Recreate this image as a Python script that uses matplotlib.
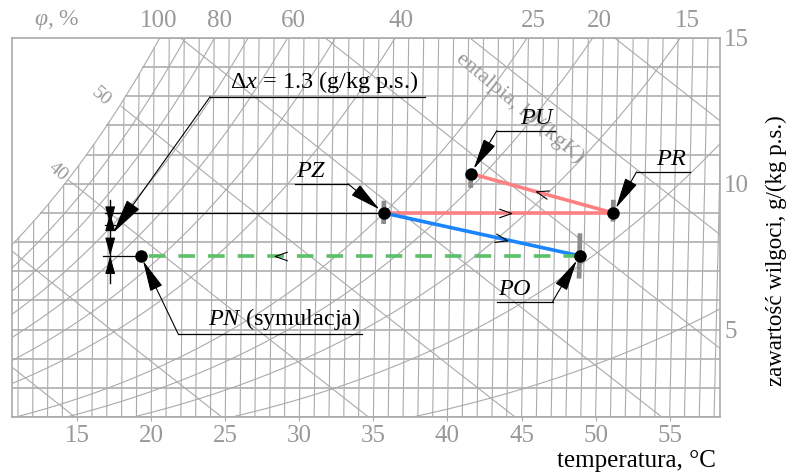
import numpy as np
import matplotlib
matplotlib.use('Agg')
import matplotlib.pyplot as plt
from matplotlib.path import Path
from matplotlib.markers import MarkerStyle
from matplotlib.transforms import Affine2D

plt.rcParams['font.family'] = ['Liberation Serif', 'DejaVu Serif']
plt.rcParams['mathtext.fontset'] = 'custom'
plt.rcParams['mathtext.rm'] = 'Liberation Serif'
plt.rcParams['mathtext.it'] = 'Liberation Serif:italic'

# ---------------- data ----------------
point_names = ['PZ', 'PR', 'PU', 'PO', 'PN']
point_T = [35.5, 50.9, 41.3, 48.7, 19.2]        # temperature, °C
point_x = [9.0, 9.0, 10.35, 7.53, 7.53]         # humidity ratio, g/kg
bar_lo = [8.62, 8.7, 9.86, 6.75]                # grey range bars (PZ, PR, PU, PO)
bar_hi = [9.42, 9.45, 10.37, 8.3]
rh_levels = [100, 90, 80, 70, 60, 50, 40, 25, 20, 15, 10, 5]
rh_labels = ['100', '80', '60', '40', '25', '20', '15']
h_levels = list(range(10, 140, 10))
T_ticks = [15, 20, 25, 30, 35, 40, 45, 50, 55]
x_ticks = [5, 10, 15]
delta_x_text = '1.3'

GRID = '#aaaaaa'
TXT = '#999999'
SK = 0.0008   # slight slant of isotherms
FS = 17.5


def X(T, x):
    return np.asarray(T) * (1 + SK * (np.asarray(x) - 2))


def psat(T):
    return 0.61094 * np.exp(17.625 * T / (T + 243.04))


def xof(T, phi):
    p = phi * psat(T)
    return 622 * p / (101.325 - p)


def Tsat(x):
    Ts = np.linspace(-10, 80, 9001)
    return np.interp(x, xof(Ts, 1.0), Ts)


fig = plt.figure(figsize=(7.88, 4.73), dpi=100)
ax = fig.add_axes([12 / 788, 1 - 417 / 473, 708 / 788, 379 / 473])
xmin, xmax = 10.6, 58.4
ax.set_xlim(xmin, xmax)
ax.set_ylim(2, 15)

# isotherms every 1 °C
for T in range(5, 65):
    xs = xof(T, 1.0)
    if xs <= 2:
        continue
    xx = np.array([2, min(15.5, xs)])
    ax.plot(X(T, xx), xx, color=GRID, lw=0.8, zorder=1)

# constant humidity ratio lines
for xv in range(2, 16):
    t0 = Tsat(xv)
    ax.plot(X([t0, 65], xv), [xv, xv], color='#b4b4b4', lw=1.3, zorder=1)

# relative humidity curves
Tc = np.linspace(0, 70, 600)
for phi in rh_levels:
    xc = xof(Tc, phi / 100)
    m = xc < 17
    ax.plot(X(Tc[m], xc[m]), xc[m], color=GRID, lw=0.8, zorder=1)

# enthalpy lines
xe = np.linspace(1.5, 16, 300)
for h in h_levels:
    Te = (h - 2.501 * xe) / (1.006 + 0.00186 * xe)
    m = xe <= xof(Te, 1.0)
    ax.plot(X(Te[m], xe[m]), xe[m], color=GRID, lw=0.8, zorder=1)

# enthalpy labels
for h, (hx, hy) in zip([50, 40], [(16.6, 13.0), (13.7, 10.4)]):
    ax.text(hx, hy, str(h), color=TXT, fontsize=14, rotation=-40,
            ha='center', va='center', zorder=3)
ax.text(44.9, 12.6, 'entalpia, kJ/(kgK)', color=TXT, fontsize=16, rotation=-40,
        ha='center', va='center', zorder=3)

# RH labels on top
for lab in rh_labels:
    phi = float(lab) / 100
    xt = 15.5
    T = Tsat(xt) if phi == 1 else np.interp(xt, xof(Tc, phi), Tc)
    shift = 9 if lab == '100' else 3
    fig.text((ax.transData.transform((X(T, xt), 15))[0] - shift) / 788, 1 - 21 / 473, lab,
             color=TXT, fontsize=18, ha='center', va='center')
fig.text(57 / 788, 1 - 20 / 473, r'$\mathit{φ}$, %', color=TXT, fontsize=17,
         ha='center', va='center')

# axes styling
for s in ax.spines.values():
    s.set_color(GRID)
    s.set_linewidth(1.2)
ax.set_xticks(T_ticks)
ax.set_xticklabels([str(t) for t in T_ticks])
ax.tick_params(axis='x', colors=GRID, labelcolor=TXT, labelsize=18, length=3, pad=3)
ax.yaxis.tick_right()
ax.set_yticks(x_ticks)
ax.tick_params(axis='y', colors=GRID, labelcolor=TXT, labelsize=18, length=0, pad=3)
fig.text(716 / 788, 1 - 461 / 473, 'temperatura, °C', fontsize=18, ha='right', va='center')
fig.text(776 / 788, 1 - 251 / 473, 'zawartość wilgoci, g/(kg p.s.)', fontsize=16.5,
         rotation=90, ha='center', va='center')

# ---------------- process lines ----------------
P = {n: (X(t, x), x) for n, t, x in zip(point_names, point_T, point_x)}
segs = [('PZ', 'PR', '#ff8080', '-', 0.53), ('PR', 'PU', '#ff8080', '-', 0.5),
        ('PZ', 'PO', '#1a85ff', '-', 0.6), ('PO', 'PN', '#5cbf6a', '--', 0.68)]
chev = Path([(-1, 0.7), (1, 0), (-1, -0.7)], [Path.MOVETO, Path.LINETO, Path.LINETO])
for a, b, c, ls, f in segs:
    (x0, y0), (x1, y1) = P[a], P[b]
    line, = ax.plot([x0, x1], [y0, y1], color=c, lw=2.6, ls=ls, zorder=4)
    if ls == '--':
        line.set_dashes((4.6, 3.6))
    d0 = ax.transData.transform((x0, y0))
    d1 = ax.transData.transform((x1, y1))
    ang = np.degrees(np.arctan2(d1[1] - d0[1], d1[0] - d0[0]))
    ms = MarkerStyle(chev, transform=Affine2D().rotate_deg(ang))
    ax.plot([x0 + f * (x1 - x0)], [y0 + f * (y1 - y0)], marker=ms, ms=9,
            mfc='none', mec='black', mew=0.8, zorder=5)

# grey range bars
for n, lo, hi in zip(point_names[:4], bar_lo, bar_hi):
    t = point_T[point_names.index(n)]
    ax.plot(X(t, [lo, hi]), [lo, hi], color='#8c8c8c', lw=3.4, solid_capstyle='butt', zorder=3)

# points
ax.plot([P[n][0] for n in point_names], [P[n][1] for n in point_names], 'o',
        color='black', ms=8, zorder=6)

# dimension lines
ax.plot([16.9, P['PZ'][0]], [9.0, 9.0], color='black', lw=0.9, zorder=4)
ax.plot([16.75, P['PN'][0]], [7.53, 7.53], color='black', lw=0.9, zorder=4)
ax.plot([17.23, 17.23], [9.45, 6.6], color='black', lw=1.0, zorder=4)
ax.plot([16.9, 17.55], [8.6, 8.6], color='black', lw=0.9, zorder=4)
for tip, tail in [((17.23, 9.0), (17.23, 8.55)), ((17.23, 8.6), (17.23, 9.05)),
                  ((17.23, 7.53), (17.23, 8.0)), ((17.23, 7.53), (17.23, 7.05))]:
    ax.annotate('', xy=tip, xytext=tail,
                arrowprops=dict(arrowstyle='-|>,head_length=0.8,head_width=0.22',
                                color='black', lw=0.8, shrinkA=0, shrinkB=0, mutation_scale=14),
                zorder=5)

# ---------------- annotations ----------------
AP = dict(arrowstyle='-|>,head_length=1.4,head_width=0.3', color='black', lw=0.8,
          shrinkA=0, shrinkB=4, mutation_scale=14)
notes = [  # text, text-left, underline y, underline start, underline end, leader from
    (r'$\mathit{PZ}$', 29.8, 10.0, 29.7, 33.28, 33.28, 'PZ'),
    (r'$\mathit{PU}$', 44.9, 11.82, 43.33, 47.24, 43.33, 'PU'),
    (r'$\mathit{PR}$', 54.1, 10.41, 52.77, 56.35, 52.77, 'PR'),
    (r'$\mathit{PO}$', 43.4, 5.96, 43.33, 47.1, 47.1, 'PO'),
    (r'$\mathit{PN}$ (symulacja)', 23.8, 4.86, 21.81, 34.22, 21.81, 'PN'),
]
for txt, tx, uy, u0, u1, lf, tgt in notes:
    ax.text(tx, uy + 0.05, txt, fontsize=FS, ha='left', va='bottom', zorder=7)
    ax.plot([u0, u1], [uy, uy], color='black', lw=0.9, zorder=7)
    ax.annotate('', xy=P[tgt], xytext=(lf, uy), arrowprops=AP, zorder=7)

ax.text(25.3, 13.03, r'$\Delta\mathit{x}$ = ' + delta_x_text + ' (g/kg p.s.)', fontsize=FS,
        ha='left', va='bottom', zorder=7)
ax.plot([23.97, 38.47], [12.98, 12.98], color='black', lw=0.9, zorder=7)
ax.annotate('', xy=(17.43, 8.32), xytext=(23.97, 12.98),
            arrowprops=dict(AP, shrinkB=0, arrowstyle='-|>,head_length=1.6,head_width=0.35'),
            zorder=7)

fig.savefig('out.png', dpi=100)
